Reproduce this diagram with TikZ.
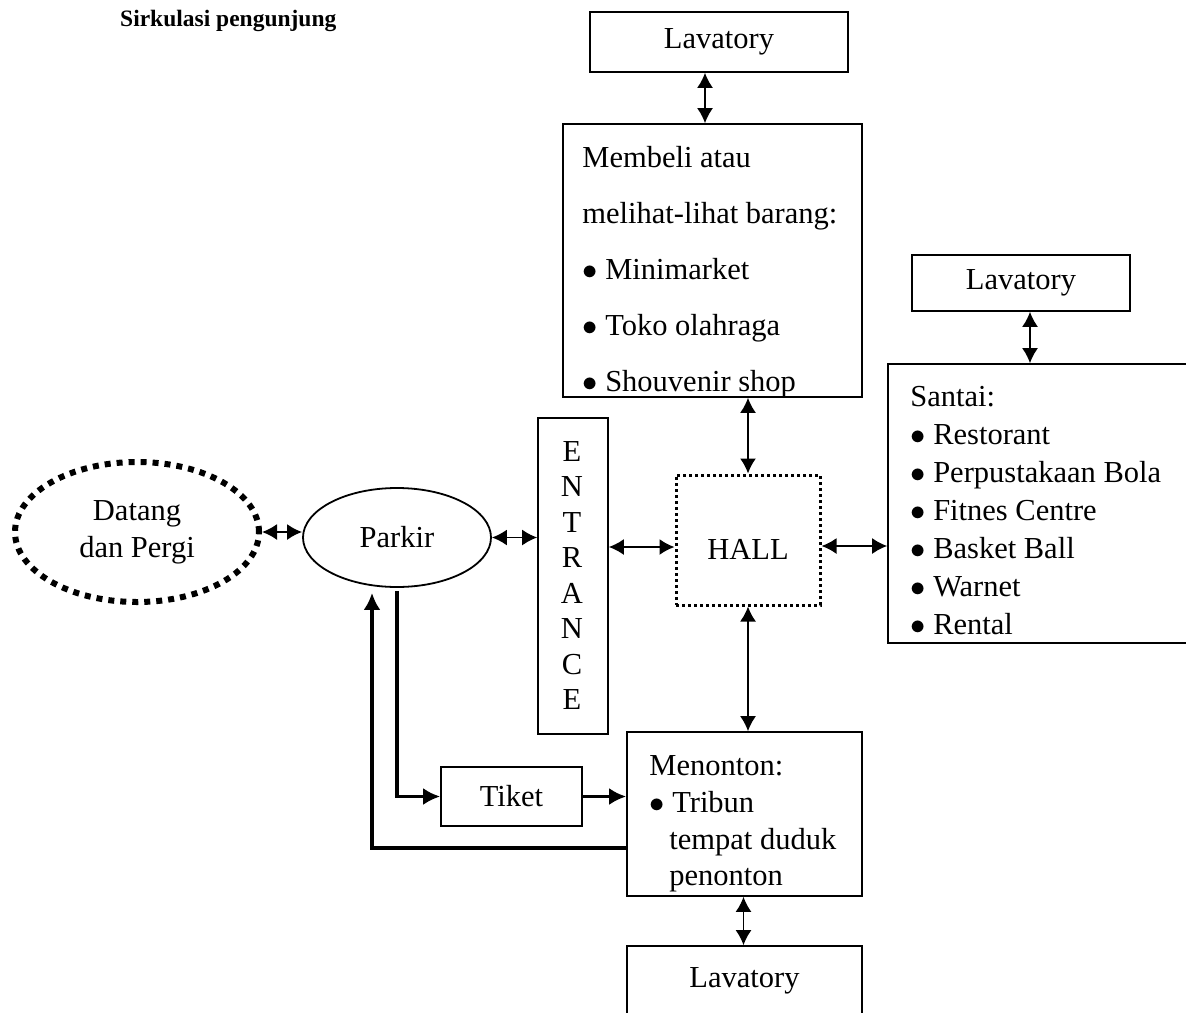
\documentclass[tikz,border=0pt]{standalone}
\usepackage{fix-cm}
\usepackage{fontspec}
\setmainfont{Liberation Serif}
\usetikzlibrary{shapes.geometric,arrows.meta,calc}
\newcommand{\blt}{$\bullet$\ }

\begin{document}
\begin{tikzpicture}[
  x=1pt, y=-1pt,
  every node/.style={font=\fontsize{30.5}{37}\selectfont},
  box/.style={draw, line width=1.6pt, inner sep=0pt},
  dbl/.style={{Latex[length=15pt,width=16pt]}-{Latex[length=15pt,width=16pt]}, line width=1.8pt},
  flow/.style={-{Latex[length=17pt,width=17pt]}, line width=3.5pt},
  item/.style={anchor=base west, inner sep=0pt}
]
  \clip (0,0) rectangle (1186,1012);

  % title
  \node[item, font=\fontsize{23.5}{28}\selectfont\bfseries] (title) at (120,26) {Sirkulasi pengunjung};

  % boxes
  \node[box, minimum width=258pt, minimum height=60pt] (lavA) at (719,42) {Lavatory};
  \node[box, minimum width=299pt, minimum height=273pt] (beli) at (712.5,260.5) {};
  \node[box, minimum width=218pt, minimum height=56pt] (lavB) at (1021,283) {Lavatory};
  \node[box, minimum width=312pt, minimum height=279pt] (santai) at (1044,503.5) {};
  \node[ellipse, draw, line width=6pt, dash pattern=on 6pt off 6pt,
        minimum width=244pt, minimum height=140pt, align=center] (datang) at (137,532) {Datang\\dan Pergi};
  \node[ellipse, draw, line width=1.8pt, minimum width=188pt, minimum height=99pt] (parkir) at (397,537.5) {Parkir};
  \node[box, minimum width=70pt, minimum height=316pt] (entrance) at (573,576) {};
  \node[draw, line width=3pt, dash pattern=on 3pt off 3pt, inner sep=0pt,
        minimum width=144pt, minimum height=130pt] (hall) at (748,540) {};
  \node[inner sep=0pt] (hall-txt) at ([yshift=-9pt]hall.center) {HALL};
  \node[box, minimum width=235pt, minimum height=164pt] (menonton) at (744.5,814) {};
  \node[box, minimum width=235pt, minimum height=70pt] (lavC) at (744.5,981) {Lavatory};
  \node[box, minimum width=141pt, minimum height=59pt] (tiket) at (511.5,796.5) {Tiket};

  % texts in the boxes
  \begin{scope}
    \clip (beli.south west) rectangle (beli.north east);
    \foreach \txt [count=\i] in {Membeli atau, melihat-lihat barang:, \blt Minimarket,
        \blt Toko olahraga, \blt Shouvenir shop}
      \node[item] (beli-\i) at ($(beli.north west)+(20,{44+56*(\i-1)})$) {\txt};
  \end{scope}
  \foreach \txt [count=\i] in {Santai:, \blt Restorant, \blt Perpustakaan Bola,
      \blt Fitnes Centre, \blt Basket Ball, \blt Warnet, \blt Rental}
    \node[item] (santai-\i) at ($(santai.north west)+(23,{43+38*(\i-1)})$) {\txt};
  \foreach \ch [count=\i] in {E,N,T,R,A,N,C,E}
    \node[anchor=base, inner sep=0pt] (ent-\i) at ($(entrance.north)+(-1,{44+35.5*(\i-1)})$) {\ch};
  \node[item] (mon-1) at ($(menonton.north west)+(23,44)$) {Menonton:};
  \node[item] (mon-2) at ($(menonton.north west)+(23,81)$) {\blt Tribun};
  \node[item] (mon-3) at ($(menonton.north west)+(43,118)$) {tempat duduk};
  \node[item] (mon-4) at ($(menonton.north west)+(43,154)$) {penonton};

  % connections
  \draw[dbl] ([xshift=-14pt]lavA.south) -- ([xshift=-14pt]lavA.south |- beli.north);
  \draw[dbl] ([xshift=9pt]lavB.south) -- ([xshift=9pt]lavB.south |- santai.north);
  \draw[dbl] (hall.north |- beli.south) -- (hall.north);
  \draw[dbl] (hall.south) -- (hall.south |- menonton.north);
  \draw[dbl] ([xshift=-1pt]menonton.south) -- ([xshift=-1pt]lavC.north);
  \draw[dbl] (datang.east) -- (datang.east -| parkir.west);
  \draw[dbl] (parkir.east) -- (parkir.east -| entrance.west);
  \draw[dbl] ([yshift=-7pt]hall.west -| entrance.east) -- ([yshift=-7pt]hall.west);
  \draw[dbl] ([yshift=-6pt]hall.east) -- ([yshift=-6pt]hall.east -| santai.west);
  \draw[flow] ([yshift=-3pt]parkir.south) |- (tiket.west);
  \draw[flow] (tiket.east) -- (tiket.east -| menonton.west);
  \draw[flow] ([yshift=-34pt]menonton.west) -| ([xshift=-25pt,yshift=-5pt]parkir.south);
\end{tikzpicture}
\end{document}
